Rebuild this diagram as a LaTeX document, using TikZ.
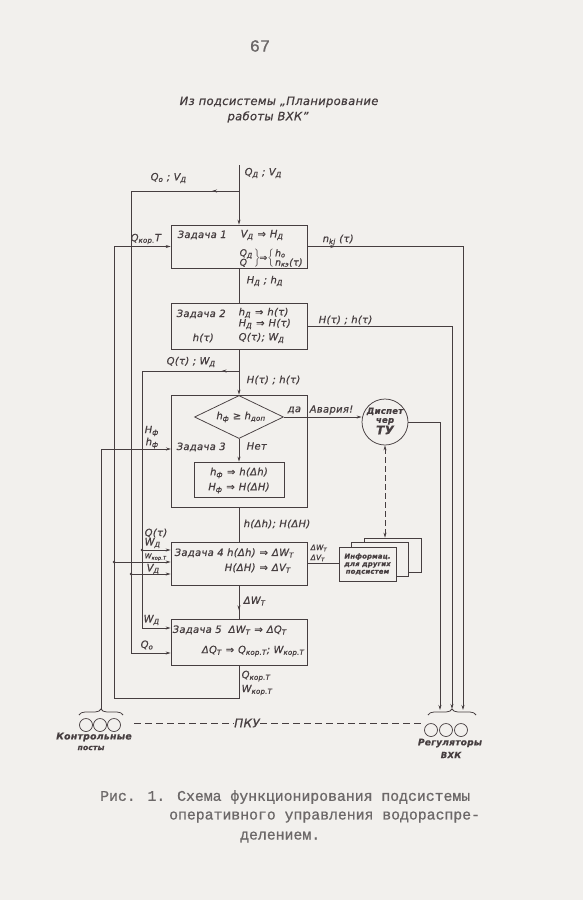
\documentclass[tikz,border=0pt]{standalone}
\usepackage{fontspec}
\setmainfont{DejaVu Sans}[LetterSpace=3,FakeBold=0.7]
\newfontfamily\monof{Liberation Mono}[FakeBold=0.8]
\newfontfamily\symf{DejaVu Sans}[FakeBold=0.7]
\usetikzlibrary{arrows.meta,decorations.pathreplacing,decorations.markings,shapes.geometric}
\definecolor{paper}{RGB}{242,240,237}
\definecolor{ink}{RGB}{70,62,64}
\definecolor{capink}{RGB}{108,104,104}
\newcommand\sbs[1]{\textsubscript{#1}}
\newcommand\imp{\hspace{0.4em}{\symf ⇒}\hspace{0.4em}}
\newcommand\geqs{{\symf ≥}}
\newcommand\lf{\fontsize{10}{11}\selectfont\itshape}
\begin{document}
\begin{tikzpicture}[x=1pt,y=-1pt,
  ln/.style={draw=ink,line width=0.75pt},
  arr/.style={ln,-{Stealth[length=5pt,width=3pt]}},
  box/.style={draw=ink,line width=0.75pt,inner sep=0pt,minimum width=136pt},
  lb/.style={font=\lf,text=ink,inner sep=0.5pt},
  lbw/.style={lb,anchor=west},
  midarr/.style={postaction={decorate},decoration={markings,mark=at position #1 with {\arrow{Stealth[length=5pt,width=3pt]}}}},
  jdot/.style={circle,fill=ink,inner sep=0pt,minimum size=2.6pt},
  sm/.style={circle,draw=ink,line width=0.7pt,minimum size=13pt,inner sep=0pt},
  page/.style={draw=ink,line width=0.7pt,fill=paper,minimum width=57pt,minimum height=34pt,inner sep=0pt},
  captxt/.style={font=\monof\fontsize{14.8}{20}\selectfont,text=capink,inner sep=0pt,anchor=west},
]
\fill[paper] (0,0) rectangle (583,900);
\useasboundingbox (0,0) rectangle (583,900);

% header
\node[font=\monof\fontsize{17}{17}\selectfont,text=capink,inner sep=0pt] (pn) at (260,46) {67};
\node[lb,font=\fontsize{11.5}{13}\selectfont\itshape] (t1) at (279,102) {Из подсистемы „Планирование};
\node[lb,font=\fontsize{11.5}{13}\selectfont\itshape] (t2) at (268,117) {работы ВХК”};

% boxes
\node[box,minimum height=43pt] (z1) at (239,246.5) {};
\node[box,minimum height=46pt] (z2) at (239,326) {};
\node[box,minimum height=112pt] (z3) at (239,451) {};
\node[draw=ink,line width=0.75pt,diamond,minimum width=89pt,minimum height=43pt,inner sep=0pt] (dia) at (239,417) {};
\node[box,minimum width=90pt,minimum height=35pt] (inn) at (239,479.5) {};
\node[box,minimum height=43pt] (z4) at (239,563.5) {};
\node[box,minimum height=46pt] (z5) at (239,642) {};
\node[circle,draw=ink,line width=0.75pt,minimum size=46pt,inner sep=0pt] (disp) at (385,422) {};
\node[page] (pg3) at (392.5,555) {};
\node[page] (pg2) at (380,559.5) {};
\node[page,align=center,text=ink,font=\fontsize{6.8}{7.6}\selectfont\itshape\bfseries] (pg1) at (367.5,564) {Информац.\\для других\\подсистем};

% coordinates
\coordinate (topin) at (239,165);
\coordinate (j0) at (239,191);
\coordinate (c0) at (131,191);
\coordinate (c2) at (131,653);
\coordinate (j1) at (239,371);
\coordinate (c3) at (142,371);
\coordinate (c4) at (142,628);
\coordinate (c1) at (114,698);
\coordinate (kptip) at (101,709);
\coordinate (z3in) at (171,449);
\coordinate (r1) at (440,710);
\coordinate (r2) at (452,709);
\coordinate (r3) at (463,710);
\coordinate (d1) at (142,550);
\coordinate (d2) at (114,562);
\coordinate (d3) at (131,574);

% main flow
\draw[arr] (topin) -- (z1.north);
\draw[ln,midarr=0.25] (j0) -- (c0);
\draw[arr] (c0) -- (c2) -- (c2 -| z5.west);
\draw[ln] (z1.south) -- (z2.north);
\draw[arr] (z2.south) -- (z3.north);
\draw[ln,midarr=0.18] (j1) -- (c3);
\draw[arr] (c3) -- (c4) -- (c4 -| z5.west);
\draw[arr] (dia.south) -- (inn.north);
\draw[ln] (z3.south) -- (z4.north);
\draw[ln,midarr=0.75] (z4.south) -- (z5.north);
\draw[arr] (z5.south) |- (c1) |- (z1.west);
\draw[arr] (d1) -- (d1 -| z4.west);
\draw[arr] (d2) -- (d2 -| z4.west);
\draw[arr] (d3) -- (d3 -| z4.west);
\node[jdot] (dd1) at (d1) {};
\node[jdot] (dd2) at (d2) {};
\node[jdot] (dd3) at (d3) {};
\draw[arr] (kptip) |- (z3in);
\draw[arr] (dia.east) -- (dia.east -| disp.west);
\draw[arr,midarr=0.045] (z1.east) -| (r3);
\draw[arr] (z2.east) -| (r2);
\draw[arr] (disp.east) -| (r1);
\draw[ln] (z4.east) -- (z4.east -| pg1.west);
\draw[ln,dashed,dash pattern=on 6pt off 3pt,{Stealth[length=5pt,width=3pt]}-{Stealth[length=5pt,width=3pt]}] (disp.south) -- (disp.south |- pg3.north);

% bottom
\node[sm] (k1) at (86,725) {};
\node[sm] (k2) at (100,725) {};
\node[sm] (k3) at (114,725) {};
\coordinate (kb1) at (79,715);
\coordinate (kb2) at (123,715);
\draw[ln,decorate,decoration={brace,amplitude=6pt}] (kb1) -- (kb2);
\node[sm] (g1) at (431,730) {};
\node[sm] (g2) at (446,730) {};
\node[sm] (g3) at (461,730) {};
\coordinate (gb1) at (428,715);
\coordinate (gb2) at (476,715);
\draw[ln,decorate,decoration={brace,amplitude=6pt}] (gb1) -- (gb2);
\node[lb,font=\fontsize{12}{12}\selectfont\itshape] (pku) at (247,723) {ПКУ};
\coordinate (kpe) at (134,723);
\coordinate (rge) at (421,723);
\draw[ln,dash pattern=on 7pt off 4pt] (kpe) -- (pku.west);
\draw[ln,dash pattern=on 7pt off 4pt] (pku.east) -- (rge);
\node[lb,font=\fontsize{9.3}{10}\selectfont\itshape\bfseries] (kl1) at (94,737) {Контрольные};
\node[lb,font=\fontsize{7.5}{8}\selectfont\itshape\bfseries] (kl2) at (91,748) {посты};
\node[lb,font=\fontsize{9}{10}\selectfont\itshape\bfseries] (gl1) at (450,743) {Регуляторы};
\node[lb,font=\fontsize{8.5}{9}\selectfont\itshape\bfseries] (gl2) at (451,755) {ВХК};

% labels
\node[lbw] (l1) at (244,173) {Q\sbs{Д} ; V\sbs{Д}};
\node[lbw] (l2) at (150,178) {Q\sbs{o} ; V\sbs{Д}};
\node[lbw] (l3) at (130,239) {Q\sbs{кор.}T};
\node[lbw] (l4) at (177,235) {Задача 1};
\node[lbw] (l5) at (240,235) {V\sbs{Д}\imp H\sbs{Д}};
\node[lbw,font=\fontsize{9.3}{10}\selectfont\itshape] (l6) at (239,258.5) {\def\arraystretch{0.72}\begin{tabular}{@{}l@{}}Q\sbs{Д}\\Q\end{tabular}$\left.\vrule height 6pt depth 6pt width 0pt\right\}$\hspace{-1pt}{\symf ⇒}$\left\{\vrule height 6pt depth 6pt width 0pt\right.$\begin{tabular}{@{}l@{}}h\sbs{o}\\n\sbs{кэ}(τ)\end{tabular}};
\node[lbw] (l7) at (322,240) {n\sbs{kj} (τ)};
\node[lbw] (l8) at (246,281) {H\sbs{Д} ; h\sbs{Д}};
\node[lbw] (l9) at (176,314) {Задача 2};
\node[lbw] (l10) at (238,313) {h\sbs{Д}\imp h(τ)};
\node[lbw] (l11) at (238,324) {H\sbs{Д}\imp H(τ)};
\node[lbw] (l12) at (192,338) {h(τ)};
\node[lbw] (l13) at (238,338) {Q(τ); W\sbs{Д}};
\node[lbw] (l14) at (318,320) {H(τ) ; h(τ)};
\node[lbw] (l15) at (166,362) {Q(τ) ; W\sbs{Д}};
\node[lbw] (l16) at (246,380) {H(τ) ; h(τ)};
\node[lb] (l17) at (241,417) {h\sbs{ф} \geqs{} h\sbs{доп}};
\node[lbw] (l18) at (287,410) {да};
\node[lbw] (l19) at (309,410) {Авария!};
\node[lb,align=center,font=\fontsize{8.5}{9}\selectfont\itshape\bfseries] (l20) at (385,421) {Диспет\\чер\\{\fontsize{12}{11}\selectfont ТУ}};
\node[lbw] (l21) at (144,431) {H\sbs{ф}};
\node[lbw] (l22) at (145,443) {h\sbs{ф}};
\node[lbw] (l23) at (176,447) {Задача 3};
\node[lbw] (l24) at (246,446) {Нет};
\node[lb] (l25) at (239,473) {h\sbs{ф}\imp h(Δh)};
\node[lb] (l26) at (239,488) {H\sbs{ф}\imp H(ΔH)};
\node[lbw] (l27) at (243,524) {h(Δh); H(ΔH)};
\node[lbw] (l28) at (144,533) {Q(τ)};
\node[lbw] (l29) at (144,543) {W\sbs{Д}};
\node[lbw,font=\fontsize{7}{7}\selectfont\itshape] (l30) at (144,557) {W\sbs{кор.T}};
\node[lbw] (l31) at (146,569) {V\sbs{Д}};
\node[lbw] (l32) at (174,553) {Задача 4 h(Δh)\imp ΔW\sbs{Т}};
\node[lbw] (l33) at (224,568) {H(ΔH)\imp ΔV\sbs{Т}};
\node[lbw,font=\fontsize{7.5}{8}\selectfont\itshape] (l34) at (310,548) {ΔW\sbs{Т}};
\node[lbw,font=\fontsize{7.5}{8}\selectfont\itshape] (l35) at (310,558) {ΔV\sbs{Т}};
\node[lbw] (l36) at (243,601) {ΔW\sbs{Т}};
\node[lbw] (l37) at (143,620) {W\sbs{Д}};
\node[lbw] (l38) at (140,645) {Q\sbs{o}};
\node[lbw] (l39) at (172,630) {Задача 5 \ ΔW\sbs{Т}\imp ΔQ\sbs{Т}};
\node[lb,anchor=east] (l40) at (305,651) {ΔQ\sbs{Т}\imp Q\sbs{кор.Т}; W\sbs{кор.Т}};
\node[lbw] (l41) at (241,676) {Q\sbs{кор.Т}};
\node[lbw] (l42) at (241,690) {W\sbs{кор.Т}};

% caption
\node[captxt] (cap1) at (100,797) {Рис. 1. Схема функционирования подсистемы};
\node[captxt] (cap2) at (169,817) {оперативного управления водораспре-};
\node[captxt] (cap3) at (240,837) {делением.};
\end{tikzpicture}
\end{document}
